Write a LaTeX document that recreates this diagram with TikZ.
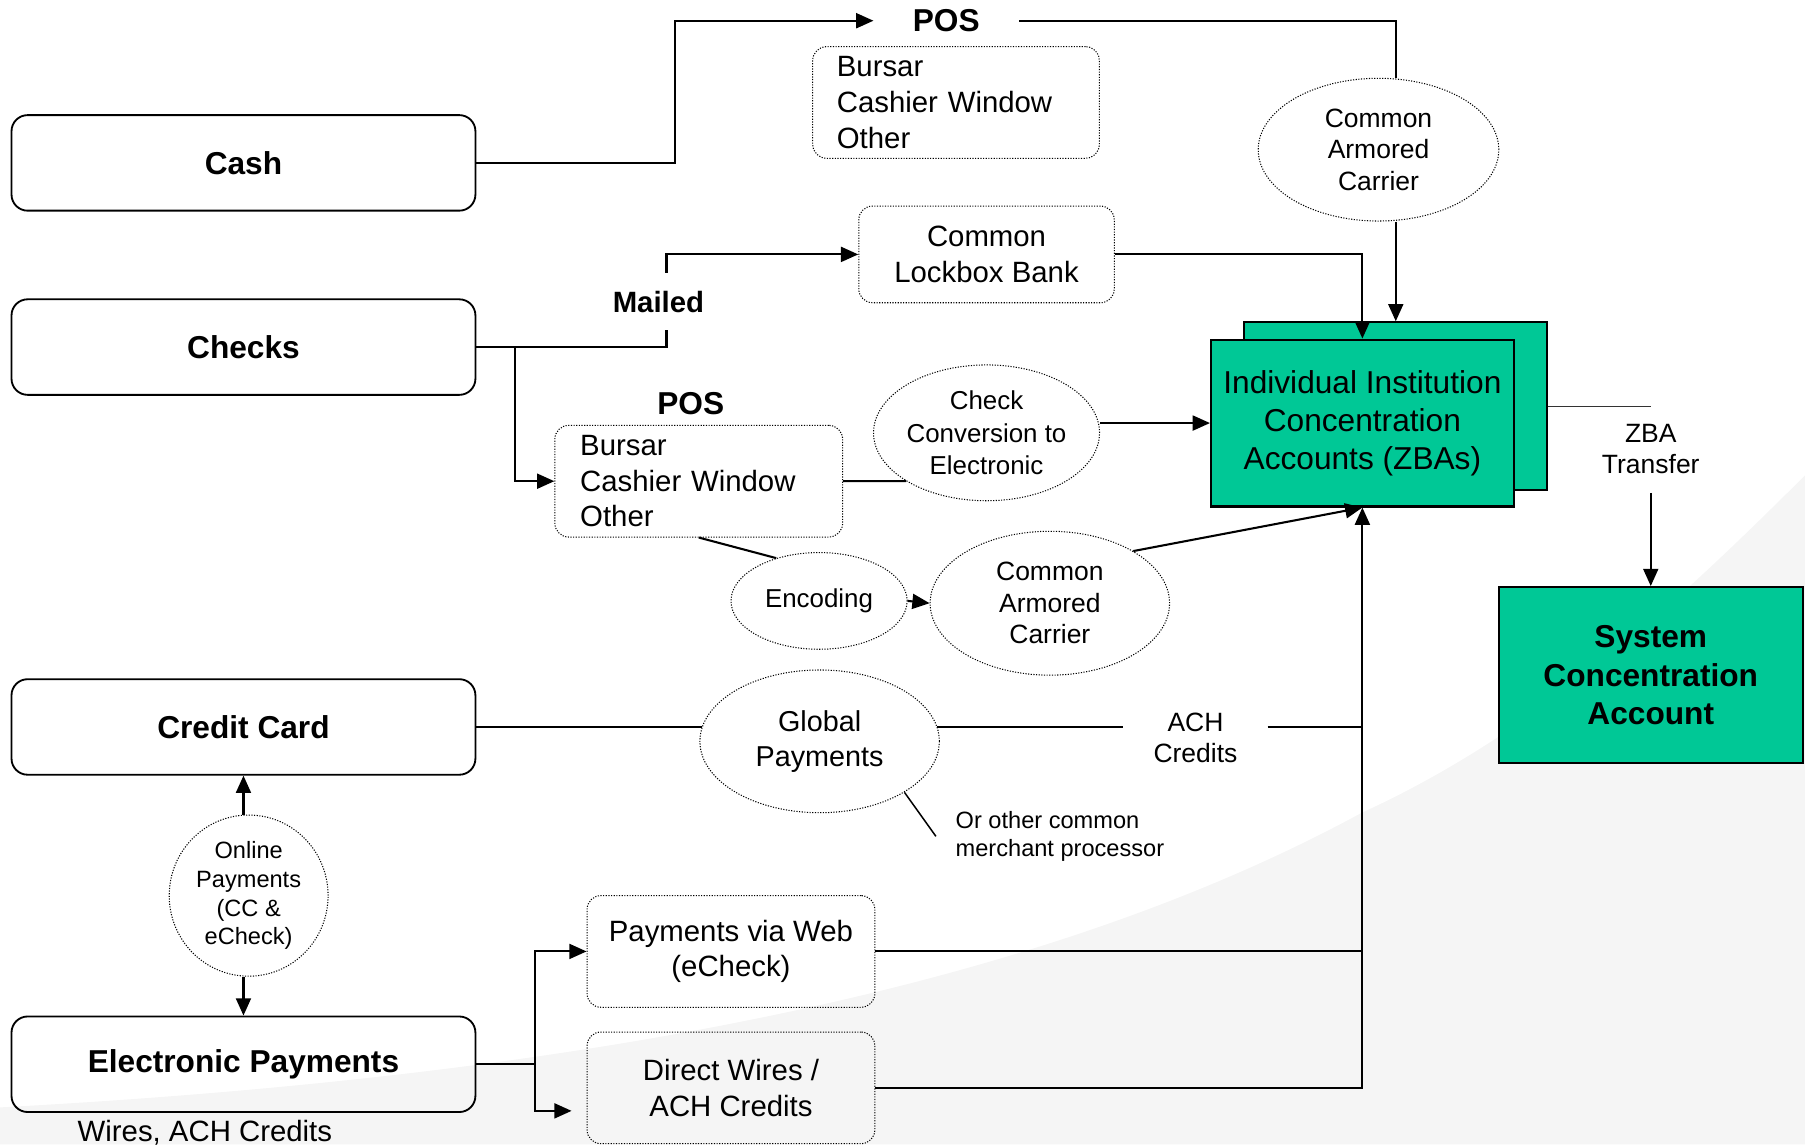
\documentclass[tikz,border=0pt]{standalone}
\usepackage{fontspec}
\setmainfont{Liberation Sans}
\usetikzlibrary{arrows.meta,shapes.geometric,calc}
\definecolor{zbagreen}{HTML}{00C896}
\definecolor{swoosh}{HTML}{F5F5F5}
% type sizes (1pt = 1 unit of the drawing grid)
\newcommand{\dgTitle}{\fontsize{27.5}{33}\selectfont}
\newcommand{\dgList}{\fontsize{25.5}{31}\selectfont}
\newcommand{\dgMid}{\fontsize{23}{27.5}\selectfont}
\newcommand{\dgSmall}{\fontsize{22.5}{28}\selectfont}
\newcommand{\dgGlob}{\fontsize{25}{30}\selectfont}
\newcommand{\dgNote}{\fontsize{20.5}{25}\selectfont}
\begin{document}
\begin{tikzpicture}[x=1pt,y=-1pt,
  srcbox/.style={draw, line width=1.6pt, rounded corners=14pt, minimum width=403pt, minimum height=83pt, font=\bfseries\dgTitle},
  dotbox/.style={draw, line width=0.9pt, dash pattern=on 1pt off 1.3pt, rounded corners=12pt, minimum width=250pt, minimum height=97pt, inner sep=0pt},
  dotell/.style={ellipse, draw, line width=0.9pt, dash pattern=on 1pt off 1.3pt, inner sep=0pt, align=center},
  conn/.style={line width=1.8pt},
  arr/.style={conn, -{Triangle[length=15pt,width=13pt]}},
  acct/.style={draw, line width=1.8pt, fill=zbagreen},
]
\useasboundingbox (0,0) rectangle (1568,994);
% light background swoosh
\fill[swoosh] (0,962) .. controls (500,935) and (900,860) .. (1183,706)
  .. controls (1350,630) and (1480,500) .. (1568,413) -- (1568,994) -- (0,994) -- cycle;

% payment sources
\node[srcbox] (cash) at (211.5,141.5) {Cash};
\node[srcbox] (checks) at (211.5,301.5) {Checks};
\node[srcbox] (credit) at (211.5,631.5) {Credit Card};
\node[srcbox] (elec) at (211.5,924.5) {Electronic Payments};
\node[font=\dgList] (wiresnote) at (178,984) {Wires, ACH Credits};

% cash path
\node[font=\bfseries\dgTitle, inner xsep=34pt, inner ysep=0pt] (pos1) at (822,18) {POS};
\node[dotbox, minimum width=249pt, text width=207pt, align=left, inner xsep=21pt, font=\dgList] (bursar1) at (830.5,89) {Bursar\\Cashier Window\\Other};
\node[dotell, minimum width=209pt, minimum height=124pt, font=\dgMid] (cac1) at (1197.5,130) {Common\\Armored\\Carrier};

% check paths
\node[dotbox, minimum width=222pt, minimum height=84pt, align=center, font=\dgList] (lockbox) at (857,221) {Common\\Lockbox Bank};
\node[font=\bfseries\dgTitle] (pos2) at (600,351) {POS};
\node[dotbox, text width=206pt, align=left, inner xsep=22pt, font=\dgList] (bursar2) at (607,418) {Bursar\\Cashier Window\\Other};
\node[dotell, minimum width=194pt, minimum height=118pt, font=\dgSmall] (ccv) at (857,376) {Check\\Conversion to\\Electronic};
\node[dotell, minimum width=153pt, minimum height=84pt, font=\dgSmall] (enc) at (711.5,522) {Encoding};
\node[dotell, minimum width=208pt, minimum height=125pt, font=\dgMid] (cac2) at (912,524) {Common\\Armored\\Carrier};

% concentration accounts
\node[acct, minimum width=263pt, minimum height=146pt] (izback) at (1212.5,353) {};
\node[acct, minimum width=263pt, minimum height=145pt, align=center, font=\dgTitle] (izba) at (1183.5,367.5) {Individual Institution\\Concentration\\Accounts (ZBAs)};
\node[font=\dgMid, align=center, minimum height=76pt] (zba) at (1434,390) {ZBA\\Transfer};
\node[acct, minimum width=264pt, minimum height=153pt, align=center, font=\bfseries\fontsize{27.5}{33.5}\selectfont] (sca) at (1434,586.5) {System\\Concentration\\Account};

% card and electronic paths
\node[dotell, minimum width=208pt, minimum height=124pt, font=\dgGlob] (glob) at (712,644) {Global\\Payments};
\node[font=\dgMid, align=center, minimum width=125pt, inner sep=0pt] (ach) at (1038.5,641) {ACH\\Credits};
\node[font=\dgNote, align=left, anchor=west, inner sep=4pt] (merchant) at (826,726.5) {Or other common\\merchant processor};
\node[dotell, minimum width=138pt, minimum height=140pt, font=\dgNote] (online) at (216,778) {Online\\Payments\\(CC \&\\eCheck)};
\node[dotbox, align=center, font=\dgList] (web) at (635,826.5) {Payments via Web\\(eCheck)};
\node[dotbox, align=center, font=\dgList] (wirebox) at (635,945) {Direct Wires /\\ACH Credits};

% connectors: cash
\draw[arr] (cash.east) -- (586,141.5) |- (pos1.west);
\draw[conn] (pos1.east) -| ([xshift=15.5pt]cac1.north);
\draw[arr] ([xshift=15pt]cac1.south) -- (izback.north);

% connectors: checks
\draw[arr] (checks.east) -| (579,260) |- (lockbox.west);
\node[font=\bfseries\dgList, fill=white, minimum height=50pt, inner xsep=2pt] (mailed) at (572,262) {Mailed};
\draw[arr] (lockbox.east) -| (izba.north);
\coordinate (cj) at (447,301.5);
\draw[arr] (cj) |- (bursar2.west);
\draw[conn] (bursar2.east) -- (ccv.211);
\draw[arr] (ccv.east |- izba.west) -- (izba.west);
\draw[conn] (bursar2.south) -- (enc.135);
\draw[arr] (enc.east) -- (cac2.west);
\draw[arr] (cac2.32) -- (izba.south);

% connectors: credit card and electronic
\draw[arr] (wirebox.east) -| (izba.south);
\draw[conn] (web.east) -- (web.east -| izba.south);
\draw[conn] (credit.east) -- (credit.east -| glob.173);
\draw[conn] (glob.7) -- (glob.7 -| ach.west);
\draw[conn] (glob.7 -| ach.east) -- (glob.7 -| izba.south);
\draw[conn, line width=1.3pt] (glob.-31) -- ([xshift=-13pt]merchant.west);
\draw[arr] (online.north -| credit.south) -- (credit.south);
\draw[arr] (online.south -| elec.north) -- (elec.north);
\coordinate (ej) at (465,924.5);
\draw[conn] (elec.east) -- (ej);
\draw[arr] (ej) |- (web.west);
\draw[arr] (ej) |- ($(wirebox.west)+(-13,20)$);

% ZBA sweep
\draw[line width=1pt, black!80] (izback.east) -- (izback.east -| zba.north);
\draw[arr] (zba.south) -- (sca.north);
\end{tikzpicture}
\end{document}
